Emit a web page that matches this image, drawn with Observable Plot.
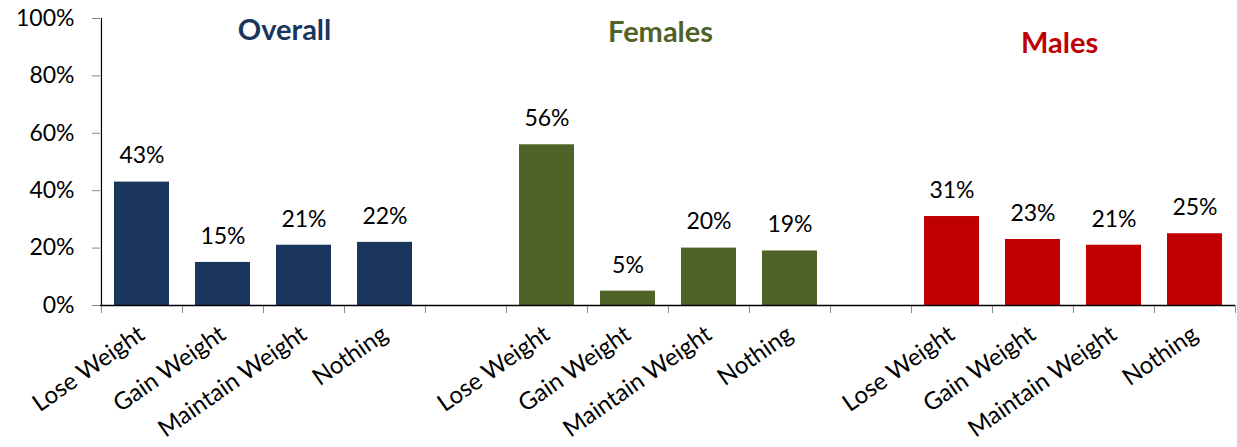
<!DOCTYPE html>
<html>
<head>
<meta charset="utf-8">
<script src="https://cdn.jsdelivr.net/npm/d3@7"></script>
<script src="https://cdn.jsdelivr.net/npm/@observablehq/plot@0.6"></script>
<style>
  html, body { margin: 0; padding: 0; background: #fff; }
  #chart { width: 1237px; height: 447px; overflow: hidden; }
</style>
</head>
<body>
<div id="chart"></div>
<script>
// ---- data ----
const groups = ["Overall", "Females", "Males"];
const categories = ["Lose Weight", "Gain Weight", "Maintain Weight", "Nothing"];
const overallValues = [43, 15, 21, 22];
const femalesValues = [56, 5, 20, 19];
const malesValues = [31, 23, 21, 25];
const yTicks = [0, 20, 40, 60, 80, 100];

// ---- styles ----
const groupColors = {Overall: "#1B365D", Females: "#4F6228", Males: "#C00000"};
const titleOffsets = {Overall: {dx: 21, dy: 1}, Females: {dx: -8, dy: 3}, Males: {dx: -14, dy: 14}};

const valuesByGroup = {Overall: overallValues, Females: femalesValues, Males: malesValues};
const rows = [];
const domain = [];
groups.forEach((g, gi) => {
  categories.forEach((c, ci) => {
    const key = g + "|" + c;
    domain.push(key);
    rows.push({key, group: g, category: c, value: valuesByGroup[g][ci]});
  });
  if (gi < groups.length - 1) domain.push("gap" + gi);
});

const width = 1237, height = 447;
const marginLeft = 100, marginRight = 2, marginTop = 18, marginBottom = 142;
const bw = (width - marginLeft - marginRight) / domain.length;

const chart = Plot.plot({
  width, height, marginLeft, marginRight, marginTop, marginBottom,
  style: {fontFamily: "Lato, 'Open Sans', sans-serif", fontSize: "23px", color: "#000", background: "#fff", overflow: "visible"},
  x: {domain, padding: 0},
  y: {domain: [0, 100]},
  marks: [
    Plot.barY(rows, {x: "key", y: "value", fill: d => groupColors[d.group], insetLeft: 13, insetRight: 13}),
    Plot.text(rows, {x: "key", y: "value", text: d => d.value + "%", dy: -26, fontSize: 23, fill: "#000"}),
    Plot.axisY({ticks: yTicks, tickFormat: d => d + "%", tickSize: 8, tickPadding: 18, stroke: "#888", fontSize: 23, fill: "#000", label: null}),
    Plot.axisX({tickSize: 8, tickFormat: () => "", dx: -bw / 2, stroke: "#888", label: null}),
    Plot.axisX([domain[domain.length - 1]], {tickSize: 8, tickFormat: () => "", dx: bw / 2, stroke: "#888", label: null}),
    Plot.axisX({tickSize: 0, tickPadding: 26, tickRotate: -35, tickFormat: d => d.includes("|") ? d.split("|")[1] : "", fontSize: 24, fill: "#000", label: null}),
    Plot.ruleY([0], {stroke: "#000", strokeWidth: 1.5}),
    Plot.ruleX([domain[0]], {dx: -bw / 2, stroke: "#000", strokeWidth: 1.2}),
    ...groups.map(g => Plot.text([g], {
      x: () => g + "|" + categories[1],
      frameAnchor: "top",
      text: d => d,
      dx: bw / 2 + titleOffsets[g].dx,
      dy: titleOffsets[g].dy,
      fontSize: 29,
      fontWeight: "bold",
      fill: groupColors[g]
    }))
  ]
});
document.getElementById("chart").appendChild(chart);
</script>
</body>
</html>
